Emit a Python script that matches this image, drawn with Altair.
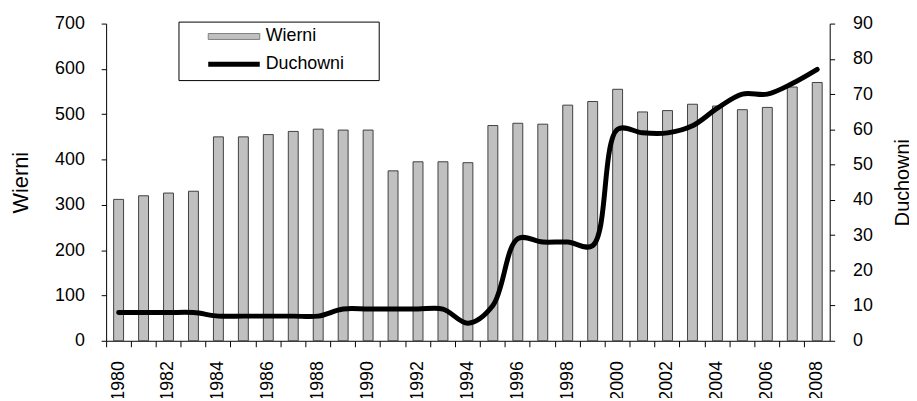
import altair as alt
import pandas as pd

years = ["1980", "1981", "1982", "1983", "1984", "1985", "1986", "1987", "1988", "1989",
         "1990", "1991", "1992", "1993", "1994", "1995", "1996", "1997", "1998", "1999",
         "2000", "2001", "2002", "2003", "2004", "2005", "2006", "2007", "2008"]
wierni = [312, 320, 326, 330, 450, 450, 455, 462, 467, 465,
          465, 375, 395, 395, 393, 475, 480, 478, 520, 528,
          555, 505, 508, 522, 518, 510, 515, 560, 570]
duchowni = [8, 8, 8, 8, 7, 7, 7, 7, 7, 9,
            9, 9, 9, 9, 5, 10, 29, 28, 28, 27,
            60, 59, 59, 61, 66, 70, 70, 73, 77]
series = ["Wierni", "Duchowni"]
left_ticks = [0, 100, 200, 300, 400, 500, 600, 700]
right_ticks = [0, 10, 20, 30, 40, 50, 60, 70, 80, 90]

df = pd.DataFrame({"rok": years, "Wierni": wierni, "Duchowni": duchowni})
leg = pd.DataFrame({"series": series})

FONT = "Liberation Sans"
LABEL = 18
NBSP = "\u00a0\u00a0"

x_enc = alt.X(
    "rok:O",
    scale=alt.Scale(paddingInner=0, paddingOuter=0),
    axis=alt.Axis(
        title=None,
        labelAngle=-90,
        labelExpr="toNumber(datum.value) % 2 == 0 ? datum.label : ''",
        bandPosition=0,
        tickSize=6,
        labelPadding=14,
        labelFontSize=LABEL,
    ),
)

bars = alt.Chart(df).mark_bar(
    width=10, fill="#C0C0C0", stroke="#404040", strokeWidth=1
).encode(
    x=x_enc,
    y=alt.Y(
        "Wierni:Q",
        scale=alt.Scale(domain=[0, 700], nice=False),
        axis=alt.Axis(
            title="Wierni", orient="left", values=left_ticks, grid=False,
            tickSize=5, labelPadding=17, titlePadding=22, titleFontSize=22,
        ),
    ),
)

line = alt.Chart(df).mark_line(
    interpolate="catmull-rom", color="black", strokeWidth=5,
    strokeCap="round", strokeJoin="round",
).encode(
    x=x_enc,
    y=alt.Y(
        "Duchowni:Q",
        scale=alt.Scale(domain=[0, 90], nice=False),
        axis=alt.Axis(
            title="Duchowni", orient="right", values=right_ticks, grid=False,
            tickSize=5, labelPadding=18, titleAngle=270, titleBaseline="top",
            titlePadding=20, titleFontSize=20,
        ),
    ),
)

rect_path = "M-5.2,-0.6H5.2V0.6H-5.2Z"
line_path = "M-5.2,0H5.2"


def lg():
    return alt.Legend(
        title=NBSP, titleOrient="right", titlePadding=29, titleFontSize=LABEL,
        orient="none", legendX=73, legendY=-2,
        symbolOffset=41, labelOffset=23, padding=6,
    )


legend_layer = alt.Chart(leg).mark_point(filled=True, opacity=1).encode(
    fill=alt.Fill(
        "series:N",
        scale=alt.Scale(domain=series, range=["#C0C0C0", "#000000"]),
        legend=lg(),
    ),
    stroke=alt.Stroke(
        "series:N",
        scale=alt.Scale(domain=series, range=["#808080", "#000000"]),
        legend=lg(),
    ),
    shape=alt.Shape(
        "series:N",
        scale=alt.Scale(domain=series, range=[rect_path, line_path]),
        legend=lg(),
    ),
    strokeWidth=alt.StrokeWidth(
        "series:N",
        scale=alt.Scale(domain=series, range=[1, 5]),
        legend=lg(),
    ),
).transform_filter("false")

chart = alt.layer(bars, line, legend_layer).resolve_scale(
    y="independent"
).properties(
    width=730,
    height=320,
    autosize=alt.AutoSizeParams(type="none"),
    padding={"left": 99, "top": 14, "right": 80, "bottom": 56},
).configure_view(
    stroke=None
).configure_axis(
    labelFont=FONT, titleFont=FONT, labelColor="black", titleColor="black",
    labelFontSize=LABEL, titleFontWeight="normal",
    domainColor="black", tickColor="black", domainWidth=1, tickWidth=1,
).configure_legend(
    labelFont=FONT, labelFontSize=LABEL, labelColor="black",
    titleFont=FONT, titleColor="black",
    strokeColor="black", fillColor="white",
    symbolSize=100, rowPadding=9, symbolOpacity=1,
)

chart.save("out.html", embed_options={"renderer": "svg", "actions": False})
